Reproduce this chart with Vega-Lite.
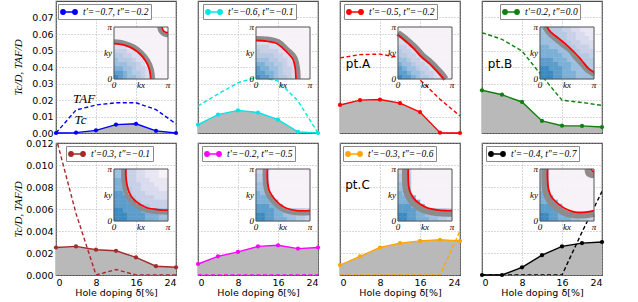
{
"$schema":"https://vega.github.io/schema/vega-lite/v6.json",
"background":"white",
"padding":{"left":11,"top":0,"right":0,"bottom":0},
"columns":4,
"spacing":{"row":10,"column":22},
"bounds":"flush",
"resolve":{"scale":{"color":"independent","stroke":"independent"},"legend":{"color":"independent"}},
"config":{
 "view":{"stroke":"#4d4d4d","strokeWidth":1.2},
 "axis":{"labelFont":"DejaVu Sans","labelFontSize":9.5,"labelColor":"#000","titleFont":"DejaVu Sans","titleFontSize":9.5,"titleFontWeight":"normal","titleColor":"#000","domain":false,"ticks":false,"grid":true,"gridColor":"#a0a0a0","gridDash":[1,2],"gridWidth":0.8,"labelPadding":3},
 "legend":{"orient":"none","title":null,"symbolType":"M-1.6,0H1.6M-0.75,0A0.45,0.45 0 1,1 -1.65,0A0.45,0.45 0 1,1 -0.75,0ZM1.65,0A0.45,0.45 0 1,1 0.75,0A0.45,0.45 0 1,1 1.65,0Z","symbolSize":100,"symbolOffset":3,"symbolStrokeWidth":1.3,"labelFont":"Liberation Serif","labelFontSize":9.5,"labelFontStyle":"italic","labelColor":"#000","labelOffset":8,"padding":2,"strokeColor":"#8a8a8a","fillColor":"#ffffff","cornerRadius":0}
},
"datasets":{
"m":[
{"p":1,"d":0,"tc":0,"taf":0},{"p":1,"d":4,"tc":0.0002,"taf":0.0139},{"p":1,"d":8,"tc":0.0016,"taf":0.017},{"p":1,"d":12,"tc":0.0051,"taf":0.0183},{"p":1,"d":16,"tc":0.0056,"taf":0.0183},{"p":1,"d":20,"tc":0.0013,"taf":0.0142},{"p":1,"d":24,"tc":0,"taf":0.0055},
{"p":2,"d":0,"tc":0.005,"taf":0.0164},{"p":2,"d":4,"tc":0.0111,"taf":0.0236},{"p":2,"d":8,"tc":0.0137,"taf":0.0305},{"p":2,"d":12,"tc":0.0124,"taf":0.034},{"p":2,"d":16,"tc":0.0081,"taf":0.0315},{"p":2,"d":20,"tc":0.0007,"taf":0.0194},{"p":2,"d":24,"tc":0,"taf":0},
{"p":3,"d":0,"tc":0.017,"taf":0.0455},{"p":3,"d":4,"tc":0.0199,"taf":0.0475},{"p":3,"d":8,"tc":0.0203,"taf":0.0478},{"p":3,"d":12,"tc":0.0181,"taf":0.0457},{"p":3,"d":16,"tc":0.0127,"taf":0.0322},{"p":3,"d":20,"tc":0.0002,"taf":0.0205},{"p":3,"d":24,"tc":0,"taf":0.0103},
{"p":4,"d":0,"tc":0.0259,"taf":0.0608},{"p":4,"d":4,"tc":0.0232,"taf":0.0568},{"p":4,"d":8,"tc":0.0188,"taf":0.0497},{"p":4,"d":12,"tc":0.0073,"taf":0.0345},{"p":4,"d":16,"tc":0.0044,"taf":0.0199},{"p":4,"d":20,"tc":0.0043,"taf":0.0185},{"p":4,"d":24,"tc":0.0036,"taf":0.0167},
{"p":5,"d":0,"tc":0.0025,"taf":0.0125},{"p":5,"d":4,"tc":0.0026,"taf":0.0056},{"p":5,"d":8,"tc":0.0023,"taf":0},{"p":5,"d":12,"tc":0.0022,"taf":0.0005},{"p":5,"d":16,"tc":0.0016,"taf":0},{"p":5,"d":20,"tc":0.0008,"taf":0},{"p":5,"d":24,"tc":0.0007,"taf":0},
{"p":6,"d":0,"tc":0.001,"taf":0},{"p":6,"d":4,"tc":0.0017,"taf":0},{"p":6,"d":8,"tc":0.0021,"taf":0},{"p":6,"d":12,"tc":0.0026,"taf":0},{"p":6,"d":16,"tc":0.0027,"taf":0},{"p":6,"d":20,"tc":0.0024,"taf":0},{"p":6,"d":24,"tc":0.0025,"taf":0},
{"p":7,"d":0,"tc":0.0009,"taf":0},{"p":7,"d":4,"tc":0.0017,"taf":0},{"p":7,"d":8,"tc":0.0025,"taf":0},{"p":7,"d":12,"tc":0.0029,"taf":0},{"p":7,"d":16,"tc":0.0031,"taf":0},{"p":7,"d":20,"tc":0.0032,"taf":0},{"p":7,"d":24,"tc":0.0031,"taf":0.004},
{"p":8,"d":0,"tc":0,"taf":0},{"p":8,"d":4,"tc":0,"taf":0},{"p":8,"d":8,"tc":0.0007,"taf":0},{"p":8,"d":12,"tc":0.0018,"taf":0},{"p":8,"d":16,"tc":0.0026,"taf":0},{"p":8,"d":20,"tc":0.0029,"taf":0.0039},{"p":8,"d":24,"tc":0.003,"taf":0.0076}
],
"h":[
{"p":1,"j":0,"v":[0,1,2,3,3,4,5,6,8,8,8,8]},{"p":1,"j":1,"v":[1,1,2,3,4,4,5,6,8,8,8,8]},{"p":1,"j":2,"v":[2,2,3,3,4,5,5,6,8,8,8,8]},{"p":1,"j":3,"v":[3,3,3,4,4,5,6,8,8,8,8,8]},{"p":1,"j":4,"v":[3,4,4,4,5,6,6,8,8,8,8,8]},{"p":1,"j":5,"v":[4,4,5,5,6,6,8,8,8,8,8,8]},{"p":1,"j":6,"v":[5,5,5,6,6,8,8,8,8,8,8,8]},{"p":1,"j":7,"v":[6,6,6,8,8,8,8,8,8,8,8,8]},{"p":1,"j":8,"v":[8,8,8,8,8,8,8,8,8,8,8,8]},{"p":1,"j":9,"v":[8,8,8,8,8,8,8,8,8,8,8,8]},{"p":1,"j":10,"v":[8,8,8,8,8,8,8,8,8,8,8,8]},{"p":1,"j":11,"v":[8,8,8,8,8,8,8,8,8,8,8,8]},
{"p":2,"j":0,"v":[0,1,1,2,3,4,4,5,6,8,8,8]},{"p":2,"j":1,"v":[1,1,2,2,3,4,5,5,6,8,8,8]},{"p":2,"j":2,"v":[1,2,2,3,3,4,5,5,6,8,8,8]},{"p":2,"j":3,"v":[2,2,3,3,4,4,5,6,6,8,8,8]},{"p":2,"j":4,"v":[3,3,3,4,4,5,5,6,8,8,8,8]},{"p":2,"j":5,"v":[4,4,4,4,5,5,6,6,8,8,8,8]},{"p":2,"j":6,"v":[4,5,5,5,5,6,6,8,8,8,8,8]},{"p":2,"j":7,"v":[5,5,5,6,6,6,8,8,8,8,8,8]},{"p":2,"j":8,"v":[6,6,6,6,8,8,8,8,8,8,8,8]},{"p":2,"j":9,"v":[8,8,8,8,8,8,8,8,8,8,8,8]},{"p":2,"j":10,"v":[8,8,8,8,8,8,8,8,8,8,8,8]},{"p":2,"j":11,"v":[8,8,8,8,8,8,8,8,8,8,8,8]},
{"p":3,"j":0,"v":[0,1,1,2,3,4,4,5,6,6,8,8]},{"p":3,"j":1,"v":[1,1,2,3,3,4,5,5,6,8,8,8]},{"p":3,"j":2,"v":[1,2,3,3,4,5,5,6,8,8,8,8]},{"p":3,"j":3,"v":[2,3,3,4,5,5,6,8,8,8,8,8]},{"p":3,"j":4,"v":[3,3,4,5,5,6,8,8,8,8,8,8]},{"p":3,"j":5,"v":[4,4,5,5,6,8,8,8,8,8,8,8]},{"p":3,"j":6,"v":[4,5,5,6,8,8,8,8,8,8,8,8]},{"p":3,"j":7,"v":[5,5,6,8,8,8,8,8,8,8,8,8]},{"p":3,"j":8,"v":[6,6,8,8,8,8,8,8,8,8,8,8]},{"p":3,"j":9,"v":[6,8,8,8,8,8,8,8,8,8,8,8]},{"p":3,"j":10,"v":[8,8,8,8,8,8,8,8,8,8,8,8]},{"p":3,"j":11,"v":[8,8,8,8,8,8,8,8,8,8,8,8]},
{"p":4,"j":0,"v":[0,0,0,1,1,2,2,2,3,3,3,3]},{"p":4,"j":1,"v":[0,0,0,1,1,2,2,2,3,3,3,3]},{"p":4,"j":2,"v":[0,0,1,1,1,2,2,3,3,3,3,4]},{"p":4,"j":3,"v":[1,1,1,1,2,2,2,3,3,3,4,4]},{"p":4,"j":4,"v":[1,1,1,2,2,2,3,3,3,4,4,4]},{"p":4,"j":5,"v":[2,2,2,2,2,3,3,3,4,4,4,5]},{"p":4,"j":6,"v":[2,2,2,2,3,3,3,4,4,5,5,5]},{"p":4,"j":7,"v":[2,2,3,3,3,3,4,4,5,5,5,6]},{"p":4,"j":8,"v":[3,3,3,3,3,4,4,5,5,6,6,6]},{"p":4,"j":9,"v":[3,3,3,3,4,4,5,5,6,6,6,7]},{"p":4,"j":10,"v":[3,3,3,4,4,4,5,5,6,6,7,7]},{"p":4,"j":11,"v":[3,3,4,4,4,5,5,6,6,7,7,7]},
{"p":5,"j":0,"v":[0,0,0,1,1,1,1,2,2,2,3,3]},{"p":5,"j":1,"v":[0,0,0,1,1,1,1,2,2,2,3,3]},{"p":5,"j":2,"v":[0,0,1,1,1,1,2,2,2,2,3,3]},{"p":5,"j":3,"v":[1,1,1,1,1,1,4,4,5,5,5,5]},{"p":5,"j":4,"v":[1,1,1,1,1,4,5,5,5,5,5,5]},{"p":5,"j":5,"v":[1,1,1,1,4,5,5,5,5,6,6,6]},{"p":5,"j":6,"v":[1,1,2,4,5,5,5,6,6,6,6,6]},{"p":5,"j":7,"v":[2,2,2,4,5,5,6,6,6,6,7,7]},{"p":5,"j":8,"v":[2,2,2,5,5,5,6,6,6,7,7,7]},{"p":5,"j":9,"v":[2,2,2,5,5,6,6,6,7,7,7,7]},{"p":5,"j":10,"v":[3,3,3,5,5,6,6,7,7,7,8,8]},{"p":5,"j":11,"v":[3,3,3,5,5,6,6,7,7,7,8,8]},
{"p":6,"j":0,"v":[0,0,1,1,2,2,2,3,3,4,4,5]},{"p":6,"j":1,"v":[0,0,1,1,2,2,3,3,3,4,4,5]},{"p":6,"j":2,"v":[1,1,1,1,2,2,3,3,4,4,4,5]},{"p":6,"j":3,"v":[1,1,1,2,2,2,8,8,8,8,8,8]},{"p":6,"j":4,"v":[2,2,2,2,2,8,8,8,8,8,8,8]},{"p":6,"j":5,"v":[2,2,2,2,8,8,8,8,8,8,8,8]},{"p":6,"j":6,"v":[2,3,3,8,8,8,8,8,8,8,8,8]},{"p":6,"j":7,"v":[3,3,3,8,8,8,8,8,8,8,8,8]},{"p":6,"j":8,"v":[3,3,4,8,8,8,8,8,8,8,8,8]},{"p":6,"j":9,"v":[4,4,4,8,8,8,8,8,8,8,8,8]},{"p":6,"j":10,"v":[4,4,4,8,8,8,8,8,8,8,8,8]},{"p":6,"j":11,"v":[5,5,5,8,8,8,8,8,8,8,8,8]},
{"p":7,"j":0,"v":[0,0,1,1,2,2,2,3,3,4,4,5]},{"p":7,"j":1,"v":[0,0,1,1,2,2,3,3,3,4,4,5]},{"p":7,"j":2,"v":[1,1,1,1,2,2,3,3,4,4,4,5]},{"p":7,"j":3,"v":[1,1,1,2,2,2,8,8,8,8,8,8]},{"p":7,"j":4,"v":[2,2,2,2,2,8,8,8,8,8,8,8]},{"p":7,"j":5,"v":[2,2,2,2,8,8,8,8,8,8,8,8]},{"p":7,"j":6,"v":[2,3,3,8,8,8,8,8,8,8,8,8]},{"p":7,"j":7,"v":[3,3,3,8,8,8,8,8,8,8,8,8]},{"p":7,"j":8,"v":[3,3,4,8,8,8,8,8,8,8,8,8]},{"p":7,"j":9,"v":[4,4,4,8,8,8,8,8,8,8,8,8]},{"p":7,"j":10,"v":[4,4,4,8,8,8,8,8,8,8,8,8]},{"p":7,"j":11,"v":[5,5,5,8,8,8,8,8,8,8,8,8]},
{"p":8,"j":0,"v":[0,0,1,1,2,2,2,3,3,4,4,5]},{"p":8,"j":1,"v":[0,0,1,1,2,2,3,3,3,4,4,5]},{"p":8,"j":2,"v":[1,1,1,1,2,2,8,8,8,8,8,8]},{"p":8,"j":3,"v":[1,1,1,2,2,8,8,8,8,8,8,8]},{"p":8,"j":4,"v":[2,2,2,2,8,8,8,8,8,8,8,8]},{"p":8,"j":5,"v":[2,2,2,8,8,8,8,8,8,8,8,8]},{"p":8,"j":6,"v":[2,3,8,8,8,8,8,8,8,8,8,8]},{"p":8,"j":7,"v":[3,3,8,8,8,8,8,8,8,8,8,8]},{"p":8,"j":8,"v":[3,3,8,8,8,8,8,8,8,8,8,8]},{"p":8,"j":9,"v":[4,4,8,8,8,8,8,8,8,8,8,8]},{"p":8,"j":10,"v":[4,4,8,8,8,8,8,8,8,8,8,8]},{"p":8,"j":11,"v":[5,5,8,8,8,8,8,8,8,8,8,8]}
],
"f":[
{"p":1,"c":"r","s":1,"o":0,"x":0.68,"y":0},{"p":1,"c":"r","s":1,"o":1,"x":0.657,"y":0.176},{"p":1,"c":"r","s":1,"o":2,"x":0.589,"y":0.34},{"p":1,"c":"r","s":1,"o":3,"x":0.481,"y":0.481},{"p":1,"c":"r","s":1,"o":4,"x":0.34,"y":0.589},{"p":1,"c":"r","s":1,"o":5,"x":0.176,"y":0.657},{"p":1,"c":"r","s":1,"o":6,"x":0,"y":0.68},
{"p":1,"c":"g","s":2,"o":0,"x":0.725,"y":0},{"p":1,"c":"g","s":2,"o":1,"x":0.7,"y":0.188},{"p":1,"c":"g","s":2,"o":2,"x":0.628,"y":0.363},{"p":1,"c":"g","s":2,"o":3,"x":0.513,"y":0.513},{"p":1,"c":"g","s":2,"o":4,"x":0.363,"y":0.628},{"p":1,"c":"g","s":2,"o":5,"x":0.188,"y":0.7},{"p":1,"c":"g","s":2,"o":6,"x":0,"y":0.725},
{"p":1,"c":"r","s":3,"o":0,"x":0.89,"y":1},{"p":1,"c":"r","s":3,"o":1,"x":0.894,"y":0.972},{"p":1,"c":"r","s":3,"o":2,"x":0.905,"y":0.945},{"p":1,"c":"r","s":3,"o":3,"x":0.922,"y":0.922},{"p":1,"c":"r","s":3,"o":4,"x":0.945,"y":0.905},{"p":1,"c":"r","s":3,"o":5,"x":0.972,"y":0.894},{"p":1,"c":"r","s":3,"o":6,"x":1,"y":0.89},
{"p":1,"c":"g","s":4,"o":0,"x":0.84,"y":1},{"p":1,"c":"g","s":4,"o":1,"x":0.845,"y":0.959},{"p":1,"c":"g","s":4,"o":2,"x":0.861,"y":0.92},{"p":1,"c":"g","s":4,"o":3,"x":0.887,"y":0.887},{"p":1,"c":"g","s":4,"o":4,"x":0.92,"y":0.861},{"p":1,"c":"g","s":4,"o":5,"x":0.959,"y":0.845},{"p":1,"c":"g","s":4,"o":6,"x":1,"y":0.84},
{"p":2,"c":"r","s":1,"o":0,"x":0.74,"y":0},{"p":2,"c":"r","s":1,"o":1,"x":0.728,"y":0.2},{"p":2,"c":"r","s":1,"o":2,"x":0.68,"y":0.39},{"p":2,"c":"r","s":1,"o":3,"x":0.545,"y":0.545},{"p":2,"c":"r","s":1,"o":4,"x":0.39,"y":0.68},{"p":2,"c":"r","s":1,"o":5,"x":0.2,"y":0.728},{"p":2,"c":"r","s":1,"o":6,"x":0,"y":0.74},
{"p":2,"c":"g","s":2,"o":0,"x":0.79,"y":0},{"p":2,"c":"g","s":2,"o":1,"x":0.778,"y":0.21},{"p":2,"c":"g","s":2,"o":2,"x":0.725,"y":0.42},{"p":2,"c":"g","s":2,"o":3,"x":0.58,"y":0.58},{"p":2,"c":"g","s":2,"o":4,"x":0.42,"y":0.725},{"p":2,"c":"g","s":2,"o":5,"x":0.21,"y":0.778},{"p":2,"c":"g","s":2,"o":6,"x":0,"y":0.79},
{"p":3,"c":"r","s":1,"o":0,"x":0,"y":0.85},{"p":3,"c":"r","s":1,"o":1,"x":0.1,"y":0.765},{"p":3,"c":"r","s":1,"o":2,"x":0.2,"y":0.675},{"p":3,"c":"r","s":1,"o":3,"x":0.3,"y":0.58},{"p":3,"c":"r","s":1,"o":4,"x":0.43,"y":0.43},{"p":3,"c":"r","s":1,"o":5,"x":0.58,"y":0.3},{"p":3,"c":"r","s":1,"o":6,"x":0.675,"y":0.2},{"p":3,"c":"r","s":1,"o":7,"x":0.765,"y":0.1},{"p":3,"c":"r","s":1,"o":8,"x":0.85,"y":0},
{"p":3,"c":"g","s":2,"o":0,"x":0,"y":0.885},{"p":3,"c":"g","s":2,"o":1,"x":0.125,"y":0.79},{"p":3,"c":"g","s":2,"o":2,"x":0.225,"y":0.7},{"p":3,"c":"g","s":2,"o":3,"x":0.325,"y":0.605},{"p":3,"c":"g","s":2,"o":4,"x":0.455,"y":0.455},{"p":3,"c":"g","s":2,"o":5,"x":0.605,"y":0.325},{"p":3,"c":"g","s":2,"o":6,"x":0.7,"y":0.225},{"p":3,"c":"g","s":2,"o":7,"x":0.79,"y":0.125},{"p":3,"c":"g","s":2,"o":8,"x":0.885,"y":0},
{"p":4,"c":"r","s":1,"o":0,"x":0.13,"y":1},{"p":4,"c":"r","s":1,"o":1,"x":0.2,"y":0.9},{"p":4,"c":"r","s":1,"o":2,"x":0.3,"y":0.817},{"p":4,"c":"r","s":1,"o":3,"x":0.4,"y":0.736},{"p":4,"c":"r","s":1,"o":4,"x":0.5,"y":0.648},{"p":4,"c":"r","s":1,"o":5,"x":0.575,"y":0.575},{"p":4,"c":"r","s":1,"o":6,"x":0.648,"y":0.5},{"p":4,"c":"r","s":1,"o":7,"x":0.736,"y":0.4},{"p":4,"c":"r","s":1,"o":8,"x":0.817,"y":0.3},{"p":4,"c":"r","s":1,"o":9,"x":0.9,"y":0.2},{"p":4,"c":"r","s":1,"o":10,"x":1,"y":0.13},
{"p":4,"c":"g","s":2,"o":0,"x":0.08,"y":1},{"p":4,"c":"g","s":2,"o":1,"x":0.15,"y":0.885},{"p":4,"c":"g","s":2,"o":2,"x":0.25,"y":0.79},{"p":4,"c":"g","s":2,"o":3,"x":0.35,"y":0.705},{"p":4,"c":"g","s":2,"o":4,"x":0.45,"y":0.62},{"p":4,"c":"g","s":2,"o":5,"x":0.545,"y":0.545},{"p":4,"c":"g","s":2,"o":6,"x":0.62,"y":0.45},{"p":4,"c":"g","s":2,"o":7,"x":0.705,"y":0.35},{"p":4,"c":"g","s":2,"o":8,"x":0.79,"y":0.25},{"p":4,"c":"g","s":2,"o":9,"x":0.885,"y":0.15},{"p":4,"c":"g","s":2,"o":10,"x":1,"y":0.08},
{"p":5,"c":"r","s":1,"o":0,"x":0.22,"y":1},{"p":5,"c":"r","s":1,"o":1,"x":0.22,"y":0.85},{"p":5,"c":"r","s":1,"o":2,"x":0.24,"y":0.7},{"p":5,"c":"r","s":1,"o":3,"x":0.28,"y":0.55},{"p":5,"c":"r","s":1,"o":4,"x":0.36,"y":0.42},{"p":5,"c":"r","s":1,"o":5,"x":0.48,"y":0.32},{"p":5,"c":"r","s":1,"o":6,"x":0.62,"y":0.25},{"p":5,"c":"r","s":1,"o":7,"x":0.8,"y":0.22},{"p":5,"c":"r","s":1,"o":8,"x":1,"y":0.21},
{"p":5,"c":"g","s":2,"o":0,"x":0.17,"y":1},{"p":5,"c":"g","s":2,"o":1,"x":0.17,"y":0.84},{"p":5,"c":"g","s":2,"o":2,"x":0.19,"y":0.67},{"p":5,"c":"g","s":2,"o":3,"x":0.23,"y":0.51},{"p":5,"c":"g","s":2,"o":4,"x":0.32,"y":0.37},{"p":5,"c":"g","s":2,"o":5,"x":0.45,"y":0.27},{"p":5,"c":"g","s":2,"o":6,"x":0.6,"y":0.2},{"p":5,"c":"g","s":2,"o":7,"x":0.8,"y":0.17},{"p":5,"c":"g","s":2,"o":8,"x":1,"y":0.16},
{"p":6,"c":"r","s":1,"o":0,"x":0.21,"y":1},{"p":6,"c":"r","s":1,"o":1,"x":0.21,"y":0.8},{"p":6,"c":"r","s":1,"o":2,"x":0.24,"y":0.6},{"p":6,"c":"r","s":1,"o":3,"x":0.3,"y":0.48},{"p":6,"c":"r","s":1,"o":4,"x":0.42,"y":0.34},{"p":6,"c":"r","s":1,"o":5,"x":0.55,"y":0.25},{"p":6,"c":"r","s":1,"o":6,"x":0.75,"y":0.2},{"p":6,"c":"r","s":1,"o":7,"x":1,"y":0.2},
{"p":6,"c":"g","s":2,"o":0,"x":0.16,"y":1},{"p":6,"c":"g","s":2,"o":1,"x":0.16,"y":0.8},{"p":6,"c":"g","s":2,"o":2,"x":0.19,"y":0.58},{"p":6,"c":"g","s":2,"o":3,"x":0.25,"y":0.45},{"p":6,"c":"g","s":2,"o":4,"x":0.38,"y":0.3},{"p":6,"c":"g","s":2,"o":5,"x":0.52,"y":0.2},{"p":6,"c":"g","s":2,"o":6,"x":0.75,"y":0.15},{"p":6,"c":"g","s":2,"o":7,"x":1,"y":0.15},
{"p":7,"c":"r","s":1,"o":0,"x":0.19,"y":1},{"p":7,"c":"r","s":1,"o":1,"x":0.19,"y":0.8},{"p":7,"c":"r","s":1,"o":2,"x":0.21,"y":0.6},{"p":7,"c":"r","s":1,"o":3,"x":0.28,"y":0.45},{"p":7,"c":"r","s":1,"o":4,"x":0.4,"y":0.33},{"p":7,"c":"r","s":1,"o":5,"x":0.55,"y":0.25},{"p":7,"c":"r","s":1,"o":6,"x":0.75,"y":0.21},{"p":7,"c":"r","s":1,"o":7,"x":1,"y":0.2},
{"p":7,"c":"g","s":2,"o":0,"x":0.13,"y":1},{"p":7,"c":"g","s":2,"o":1,"x":0.13,"y":0.8},{"p":7,"c":"g","s":2,"o":2,"x":0.15,"y":0.57},{"p":7,"c":"g","s":2,"o":3,"x":0.23,"y":0.4},{"p":7,"c":"g","s":2,"o":4,"x":0.36,"y":0.27},{"p":7,"c":"g","s":2,"o":5,"x":0.52,"y":0.19},{"p":7,"c":"g","s":2,"o":6,"x":0.75,"y":0.15},{"p":7,"c":"g","s":2,"o":7,"x":1,"y":0.14},
{"p":8,"c":"r","s":1,"o":0,"x":0.14,"y":1},{"p":8,"c":"r","s":1,"o":1,"x":0.14,"y":0.8},{"p":8,"c":"r","s":1,"o":2,"x":0.16,"y":0.6},{"p":8,"c":"r","s":1,"o":3,"x":0.22,"y":0.45},{"p":8,"c":"r","s":1,"o":4,"x":0.35,"y":0.32},{"p":8,"c":"r","s":1,"o":5,"x":0.5,"y":0.22},{"p":8,"c":"r","s":1,"o":6,"x":0.65,"y":0.17},{"p":8,"c":"r","s":1,"o":7,"x":0.85,"y":0.17},{"p":8,"c":"r","s":1,"o":8,"x":1,"y":0.2},
{"p":8,"c":"g","s":2,"o":0,"x":0.08,"y":1},{"p":8,"c":"g","s":2,"o":1,"x":0.08,"y":0.8},{"p":8,"c":"g","s":2,"o":2,"x":0.1,"y":0.57},{"p":8,"c":"g","s":2,"o":3,"x":0.17,"y":0.39},{"p":8,"c":"g","s":2,"o":4,"x":0.3,"y":0.26},{"p":8,"c":"g","s":2,"o":5,"x":0.46,"y":0.15},{"p":8,"c":"g","s":2,"o":6,"x":0.65,"y":0.11},{"p":8,"c":"g","s":2,"o":7,"x":0.85,"y":0.11},{"p":8,"c":"g","s":2,"o":8,"x":1,"y":0.14},
{"p":8,"c":"r","s":3,"o":0,"x":0.95,"y":1},{"p":8,"c":"r","s":3,"o":1,"x":0.962,"y":0.962},{"p":8,"c":"r","s":3,"o":2,"x":1,"y":0.95},
{"p":8,"c":"g","s":4,"o":0,"x":0.88,"y":1},{"p":8,"c":"g","s":4,"o":1,"x":0.905,"y":0.905},{"p":8,"c":"g","s":4,"o":2,"x":1,"y":0.88}
],
"fr":[{"x":0,"y":0,"x2":1,"y2":1}],
"il":[{"x":0,"y":0,"t":"0"},{"x":0,"y":0.5,"t":"ky"},{"x":0,"y":1,"t":"π"}],
"ib":[{"x":0,"y":0,"t":"0"},{"x":0.5,"y":0,"t":"kx"},{"x":1,"y":0,"t":"π"}]
},
"concat":[
{"width":120,"height":132,"resolve":{"scale":{"x":"independent","y":"independent","color":"independent","stroke":"independent"},"axis":{"x":"independent","y":"independent"},"legend":{"color":"independent"}},
 "layer":[
  {"data":{"name":"m"},
   "encoding":{"x":{"field":"d","type":"quantitative","scale":{"domain":[0,24],"nice":false,"zero":false},"axis":{"values":[0,8,16,24],"labels":false,"title":null,"minExtent":0,"maxExtent":0,"labelPadding":0}},
     "y":{"field":"tc","type":"quantitative","scale":{"domain":[0,0.08],"nice":false},"axis":{"values":[0,0.01,0.02,0.03,0.04,0.05,0.06,0.07],"format":".2f","title":"Tc/D,  TAF/D","titleFont":"Liberation Serif","titleFontStyle":"italic","titleFontSize":11,"minExtent":30,"maxExtent":30,"titlePadding":3}}},
   "layer":[
    {"transform":[{"filter":"datum.p==1"}],"mark":{"type":"area","color":"#b9b9b9","opacity":1}},
    {"transform":[{"filter":"datum.p==1"}],"mark":{"type":"line","color":"#0000ff","strokeWidth":1.4,"strokeDash":[4,2.5],"clip":true},"encoding":{"y":{"field":"taf","type":"quantitative"}}},
    {"transform":[{"filter":"datum.p==1"}],"mark":{"type":"line","strokeWidth":1.4},"encoding":{"color":{"datum":"t′=−0.7, t″=−0.2","type":"nominal","scale":{"range":["#0000ff"]},"legend":{"legendX":2,"legendY":3,"symbolFillColor":"#0000ff","symbolStrokeColor":"#0000ff"}}}},
    {"transform":[{"filter":"datum.p==1"}],"mark":{"type":"point","filled":true,"size":18,"opacity":1},"encoding":{"color":{"datum":"t′=−0.7, t″=−0.2","type":"nominal"}}},
    {"data":{"values":[{"d":5.6,"tc":0.0206,"t":"TAF"},{"d":4.9,"tc":0.0079,"t":"Tc"}]},"mark":{"type":"text","font":"Liberation Serif","fontStyle":"italic","fontSize":13},"encoding":{"text":{"field":"t"}}}
   ]},
  {"data":{"name":"h"},"transform":[{"filter":"datum.p==1"},{"flatten":["v"]},{"window":[{"op":"row_number","as":"n"}],"groupby":["j"]}],
   "mark":{"type":"rect","strokeWidth":0.5},
   "encoding":{"x":{"field":"n","type":"ordinal","scale":{"range":[58,112],"paddingInner":0,"paddingOuter":0},"axis":null},
     "y":{"field":"j","type":"ordinal","sort":"descending","scale":{"range":[26,78],"paddingInner":0,"paddingOuter":0},"axis":null},
     "color":{"field":"v","type":"quantitative","scale":{"domain":[0,1,2,3,4,5,6,7,8],"range":["#3b8bc2","#5c9dcb","#7db0d6","#9dbfdf","#b5c9e3","#c8d0e7","#d9dbee","#e9e6f3","#f7f1f8"]},"legend":null},
     "stroke":{"field":"v","type":"quantitative","scale":{"domain":[0,1,2,3,4,5,6,7,8],"range":["#3b8bc2","#5c9dcb","#7db0d6","#9dbfdf","#b5c9e3","#c8d0e7","#d9dbee","#e9e6f3","#f7f1f8"]},"legend":null}}},
  {"encoding":{"x":{"field":"x","type":"quantitative","scale":{"domain":[0,1],"range":[58,112],"nice":false,"zero":false},"axis":null},
     "y":{"field":"y","type":"quantitative","scale":{"domain":[0,1],"range":[78,26],"nice":false,"zero":false},"axis":null}},
   "layer":[
    {"data":{"name":"f"},"transform":[{"filter":"datum.p==1 && datum.c=='g'"}],"mark":{"type":"line","color":"#8c8c8c","strokeWidth":4,"interpolate":"catmull-rom"},"encoding":{"detail":{"field":"s"},"order":{"field":"o"}}},
    {"data":{"name":"f"},"transform":[{"filter":"datum.p==1 && datum.c=='r'"}],"mark":{"type":"line","color":"#ff0000","strokeWidth":1.8,"interpolate":"catmull-rom"},"encoding":{"detail":{"field":"s"},"order":{"field":"o"}}},
    {"data":{"name":"fr"},"mark":{"type":"rect","filled":false,"color":"#555555","strokeWidth":1},"encoding":{"x2":{"field":"x2"},"y2":{"field":"y2"}}},
    {"data":{"name":"il"},"mark":{"type":"text","align":"right","baseline":"middle","dx":-2,"font":"Liberation Serif","fontSize":9,"fontStyle":"italic"},"encoding":{"text":{"field":"t"}}},
    {"data":{"name":"ib"},"mark":{"type":"text","align":"center","baseline":"top","dy":2,"font":"Liberation Serif","fontSize":9,"fontStyle":"italic"},"encoding":{"text":{"field":"t"}}}
   ]}
 ]},
{"width":120,"height":132,"resolve":{"scale":{"x":"independent","y":"independent","color":"independent","stroke":"independent"},"axis":{"x":"independent","y":"independent"},"legend":{"color":"independent"}},
 "layer":[
  {"data":{"name":"m"},
   "encoding":{"x":{"field":"d","type":"quantitative","scale":{"domain":[0,24],"nice":false,"zero":false},"axis":{"values":[0,8,16,24],"labels":false,"title":null,"minExtent":0,"maxExtent":0,"labelPadding":0}},
     "y":{"field":"tc","type":"quantitative","scale":{"domain":[0,0.08],"nice":false},"axis":{"values":[0,0.01,0.02,0.03,0.04,0.05,0.06,0.07],"labels":false,"title":null,"minExtent":0,"maxExtent":0,"labelPadding":0}}},
   "layer":[
    {"transform":[{"filter":"datum.p==2"}],"mark":{"type":"area","color":"#b9b9b9","opacity":1}},
    {"transform":[{"filter":"datum.p==2"}],"mark":{"type":"line","color":"#00e5e5","strokeWidth":1.4,"strokeDash":[4,2.5],"clip":true},"encoding":{"y":{"field":"taf","type":"quantitative"}}},
    {"transform":[{"filter":"datum.p==2"}],"mark":{"type":"line","strokeWidth":1.4},"encoding":{"color":{"datum":"t′=−0.6, t″=−0.1","type":"nominal","scale":{"range":["#00e5e5"]},"legend":{"legendX":5,"legendY":3,"symbolFillColor":"#00e5e5","symbolStrokeColor":"#00e5e5"}}}},
    {"transform":[{"filter":"datum.p==2"}],"mark":{"type":"point","filled":true,"size":18,"opacity":1},"encoding":{"color":{"datum":"t′=−0.6, t″=−0.1","type":"nominal"}}}
   ]},
  {"data":{"name":"h"},"transform":[{"filter":"datum.p==2"},{"flatten":["v"]},{"window":[{"op":"row_number","as":"n"}],"groupby":["j"]}],
   "mark":{"type":"rect","strokeWidth":0.5},
   "encoding":{"x":{"field":"n","type":"ordinal","scale":{"range":[58,112],"paddingInner":0,"paddingOuter":0},"axis":null},
     "y":{"field":"j","type":"ordinal","sort":"descending","scale":{"range":[26,78],"paddingInner":0,"paddingOuter":0},"axis":null},
     "color":{"field":"v","type":"quantitative","scale":{"domain":[0,1,2,3,4,5,6,7,8],"range":["#3b8bc2","#5c9dcb","#7db0d6","#9dbfdf","#b5c9e3","#c8d0e7","#d9dbee","#e9e6f3","#f7f1f8"]},"legend":null},
     "stroke":{"field":"v","type":"quantitative","scale":{"domain":[0,1,2,3,4,5,6,7,8],"range":["#3b8bc2","#5c9dcb","#7db0d6","#9dbfdf","#b5c9e3","#c8d0e7","#d9dbee","#e9e6f3","#f7f1f8"]},"legend":null}}},
  {"encoding":{"x":{"field":"x","type":"quantitative","scale":{"domain":[0,1],"range":[58,112],"nice":false,"zero":false},"axis":null},
     "y":{"field":"y","type":"quantitative","scale":{"domain":[0,1],"range":[78,26],"nice":false,"zero":false},"axis":null}},
   "layer":[
    {"data":{"name":"f"},"transform":[{"filter":"datum.p==2 && datum.c=='g'"}],"mark":{"type":"line","color":"#8c8c8c","strokeWidth":4,"interpolate":"catmull-rom"},"encoding":{"detail":{"field":"s"},"order":{"field":"o"}}},
    {"data":{"name":"f"},"transform":[{"filter":"datum.p==2 && datum.c=='r'"}],"mark":{"type":"line","color":"#ff0000","strokeWidth":1.8,"interpolate":"catmull-rom"},"encoding":{"detail":{"field":"s"},"order":{"field":"o"}}},
    {"data":{"name":"fr"},"mark":{"type":"rect","filled":false,"color":"#555555","strokeWidth":1},"encoding":{"x2":{"field":"x2"},"y2":{"field":"y2"}}},
    {"data":{"name":"il"},"mark":{"type":"text","align":"right","baseline":"middle","dx":-2,"font":"Liberation Serif","fontSize":9,"fontStyle":"italic"},"encoding":{"text":{"field":"t"}}},
    {"data":{"name":"ib"},"mark":{"type":"text","align":"center","baseline":"top","dy":2,"font":"Liberation Serif","fontSize":9,"fontStyle":"italic"},"encoding":{"text":{"field":"t"}}}
   ]}
 ]},
{"width":120,"height":132,"resolve":{"scale":{"x":"independent","y":"independent","color":"independent","stroke":"independent"},"axis":{"x":"independent","y":"independent"},"legend":{"color":"independent"}},
 "layer":[
  {"data":{"name":"m"},
   "encoding":{"x":{"field":"d","type":"quantitative","scale":{"domain":[0,24],"nice":false,"zero":false},"axis":{"values":[0,8,16,24],"labels":false,"title":null,"minExtent":0,"maxExtent":0,"labelPadding":0}},
     "y":{"field":"tc","type":"quantitative","scale":{"domain":[0,0.08],"nice":false},"axis":{"values":[0,0.01,0.02,0.03,0.04,0.05,0.06,0.07],"labels":false,"title":null,"minExtent":0,"maxExtent":0,"labelPadding":0}}},
   "layer":[
    {"transform":[{"filter":"datum.p==3"}],"mark":{"type":"area","color":"#b9b9b9","opacity":1}},
    {"transform":[{"filter":"datum.p==3"}],"mark":{"type":"line","color":"#ff0000","strokeWidth":1.4,"strokeDash":[4,2.5],"clip":true},"encoding":{"y":{"field":"taf","type":"quantitative"}}},
    {"transform":[{"filter":"datum.p==3"}],"mark":{"type":"line","strokeWidth":1.4},"encoding":{"color":{"datum":"t′=−0.5, t″=−0.2","type":"nominal","scale":{"range":["#ff0000"]},"legend":{"legendX":4,"legendY":3,"symbolFillColor":"#ff0000","symbolStrokeColor":"#ff0000"}}}},
    {"transform":[{"filter":"datum.p==3"}],"mark":{"type":"point","filled":true,"size":18,"opacity":1},"encoding":{"color":{"datum":"t′=−0.5, t″=−0.2","type":"nominal"}}},
    {"data":{"values":[{"d":3.6,"tc":0.0418,"t":"pt.A"}]},"mark":{"type":"text","font":"DejaVu Sans","fontSize":12},"encoding":{"text":{"field":"t"}}}
   ]},
  {"data":{"name":"h"},"transform":[{"filter":"datum.p==3"},{"flatten":["v"]},{"window":[{"op":"row_number","as":"n"}],"groupby":["j"]}],
   "mark":{"type":"rect","strokeWidth":0.5},
   "encoding":{"x":{"field":"n","type":"ordinal","scale":{"range":[58,112],"paddingInner":0,"paddingOuter":0},"axis":null},
     "y":{"field":"j","type":"ordinal","sort":"descending","scale":{"range":[26,78],"paddingInner":0,"paddingOuter":0},"axis":null},
     "color":{"field":"v","type":"quantitative","scale":{"domain":[0,1,2,3,4,5,6,7,8],"range":["#3b8bc2","#5c9dcb","#7db0d6","#9dbfdf","#b5c9e3","#c8d0e7","#d9dbee","#e9e6f3","#f7f1f8"]},"legend":null},
     "stroke":{"field":"v","type":"quantitative","scale":{"domain":[0,1,2,3,4,5,6,7,8],"range":["#3b8bc2","#5c9dcb","#7db0d6","#9dbfdf","#b5c9e3","#c8d0e7","#d9dbee","#e9e6f3","#f7f1f8"]},"legend":null}}},
  {"encoding":{"x":{"field":"x","type":"quantitative","scale":{"domain":[0,1],"range":[58,112],"nice":false,"zero":false},"axis":null},
     "y":{"field":"y","type":"quantitative","scale":{"domain":[0,1],"range":[78,26],"nice":false,"zero":false},"axis":null}},
   "layer":[
    {"data":{"name":"f"},"transform":[{"filter":"datum.p==3 && datum.c=='g'"}],"mark":{"type":"line","color":"#8c8c8c","strokeWidth":6,"interpolate":"catmull-rom"},"encoding":{"detail":{"field":"s"},"order":{"field":"o"}}},
    {"data":{"name":"f"},"transform":[{"filter":"datum.p==3 && datum.c=='r'"}],"mark":{"type":"line","color":"#ff0000","strokeWidth":1.8,"interpolate":"catmull-rom"},"encoding":{"detail":{"field":"s"},"order":{"field":"o"}}},
    {"data":{"name":"fr"},"mark":{"type":"rect","filled":false,"color":"#555555","strokeWidth":1},"encoding":{"x2":{"field":"x2"},"y2":{"field":"y2"}}},
    {"data":{"name":"il"},"mark":{"type":"text","align":"right","baseline":"middle","dx":-2,"font":"Liberation Serif","fontSize":9,"fontStyle":"italic"},"encoding":{"text":{"field":"t"}}},
    {"data":{"name":"ib"},"mark":{"type":"text","align":"center","baseline":"top","dy":2,"font":"Liberation Serif","fontSize":9,"fontStyle":"italic"},"encoding":{"text":{"field":"t"}}}
   ]}
 ]},
{"width":120,"height":132,"resolve":{"scale":{"x":"independent","y":"independent","color":"independent","stroke":"independent"},"axis":{"x":"independent","y":"independent"},"legend":{"color":"independent"}},
 "layer":[
  {"data":{"name":"m"},
   "encoding":{"x":{"field":"d","type":"quantitative","scale":{"domain":[0,24],"nice":false,"zero":false},"axis":{"values":[0,8,16,24],"labels":false,"title":null,"minExtent":0,"maxExtent":0,"labelPadding":0}},
     "y":{"field":"tc","type":"quantitative","scale":{"domain":[0,0.08],"nice":false},"axis":{"values":[0,0.01,0.02,0.03,0.04,0.05,0.06,0.07],"labels":false,"title":null,"minExtent":0,"maxExtent":0,"labelPadding":0}}},
   "layer":[
    {"transform":[{"filter":"datum.p==4"}],"mark":{"type":"area","color":"#b9b9b9","opacity":1}},
    {"transform":[{"filter":"datum.p==4"}],"mark":{"type":"line","color":"#108010","strokeWidth":1.4,"strokeDash":[4,2.5],"clip":true},"encoding":{"y":{"field":"taf","type":"quantitative"}}},
    {"transform":[{"filter":"datum.p==4"}],"mark":{"type":"line","strokeWidth":1.4},"encoding":{"color":{"datum":"t′=0.2, t″=0.0","type":"nominal","scale":{"range":["#108010"]},"legend":{"legendX":18,"legendY":3,"symbolFillColor":"#108010","symbolStrokeColor":"#108010"}}}},
    {"transform":[{"filter":"datum.p==4"}],"mark":{"type":"point","filled":true,"size":18,"opacity":1},"encoding":{"color":{"datum":"t′=0.2, t″=0.0","type":"nominal"}}},
    {"data":{"values":[{"d":3.6,"tc":0.0418,"t":"pt.B"}]},"mark":{"type":"text","font":"DejaVu Sans","fontSize":12},"encoding":{"text":{"field":"t"}}}
   ]},
  {"data":{"name":"h"},"transform":[{"filter":"datum.p==4"},{"flatten":["v"]},{"window":[{"op":"row_number","as":"n"}],"groupby":["j"]}],
   "mark":{"type":"rect","strokeWidth":0.5},
   "encoding":{"x":{"field":"n","type":"ordinal","scale":{"range":[58,112],"paddingInner":0,"paddingOuter":0},"axis":null},
     "y":{"field":"j","type":"ordinal","sort":"descending","scale":{"range":[26,78],"paddingInner":0,"paddingOuter":0},"axis":null},
     "color":{"field":"v","type":"quantitative","scale":{"domain":[0,1,2,3,4,5,6,7,8],"range":["#3b8bc2","#5c9dcb","#7db0d6","#9dbfdf","#b5c9e3","#c8d0e7","#d9dbee","#e9e6f3","#f7f1f8"]},"legend":null},
     "stroke":{"field":"v","type":"quantitative","scale":{"domain":[0,1,2,3,4,5,6,7,8],"range":["#3b8bc2","#5c9dcb","#7db0d6","#9dbfdf","#b5c9e3","#c8d0e7","#d9dbee","#e9e6f3","#f7f1f8"]},"legend":null}}},
  {"encoding":{"x":{"field":"x","type":"quantitative","scale":{"domain":[0,1],"range":[58,112],"nice":false,"zero":false},"axis":null},
     "y":{"field":"y","type":"quantitative","scale":{"domain":[0,1],"range":[78,26],"nice":false,"zero":false},"axis":null}},
   "layer":[
    {"data":{"name":"f"},"transform":[{"filter":"datum.p==4 && datum.c=='g'"}],"mark":{"type":"line","color":"#8c8c8c","strokeWidth":4,"interpolate":"catmull-rom"},"encoding":{"detail":{"field":"s"},"order":{"field":"o"}}},
    {"data":{"name":"f"},"transform":[{"filter":"datum.p==4 && datum.c=='r'"}],"mark":{"type":"line","color":"#ff0000","strokeWidth":1.8,"interpolate":"catmull-rom"},"encoding":{"detail":{"field":"s"},"order":{"field":"o"}}},
    {"data":{"name":"fr"},"mark":{"type":"rect","filled":false,"color":"#555555","strokeWidth":1},"encoding":{"x2":{"field":"x2"},"y2":{"field":"y2"}}},
    {"data":{"name":"il"},"mark":{"type":"text","align":"right","baseline":"middle","dx":-2,"font":"Liberation Serif","fontSize":9,"fontStyle":"italic"},"encoding":{"text":{"field":"t"}}},
    {"data":{"name":"ib"},"mark":{"type":"text","align":"center","baseline":"top","dy":2,"font":"Liberation Serif","fontSize":9,"fontStyle":"italic"},"encoding":{"text":{"field":"t"}}}
   ]}
 ]},
{"width":120,"height":132,"resolve":{"scale":{"x":"independent","y":"independent","color":"independent","stroke":"independent"},"axis":{"x":"independent","y":"independent"},"legend":{"color":"independent"}},
 "layer":[
  {"data":{"name":"m"},
   "encoding":{"x":{"field":"d","type":"quantitative","scale":{"domain":[0,24],"nice":false,"zero":false},"axis":{"values":[0,8,16,24],"title":"Hole doping δ[%]","labelPadding":2,"titlePadding":1}},
     "y":{"field":"tc","type":"quantitative","scale":{"domain":[0,0.012],"nice":false},"axis":{"values":[0,0.002,0.004,0.006,0.008,0.01,0.012],"format":".3f","title":"Tc/D,  TAF/D","titleFont":"Liberation Serif","titleFontStyle":"italic","titleFontSize":11,"minExtent":30,"maxExtent":30,"titlePadding":3}}},
   "layer":[
    {"transform":[{"filter":"datum.p==5"}],"mark":{"type":"area","color":"#b9b9b9","opacity":1}},
    {"transform":[{"filter":"datum.p==5"}],"mark":{"type":"line","color":"#a52a2a","strokeWidth":1.4,"strokeDash":[4,2.5],"clip":true},"encoding":{"y":{"field":"taf","type":"quantitative"}}},
    {"transform":[{"filter":"datum.p==5"}],"mark":{"type":"line","strokeWidth":1.4},"encoding":{"color":{"datum":"t′=0.3, t″=−0.1","type":"nominal","scale":{"range":["#a52a2a"]},"legend":{"legendX":10,"legendY":3,"symbolFillColor":"#a52a2a","symbolStrokeColor":"#a52a2a"}}}},
    {"transform":[{"filter":"datum.p==5"}],"mark":{"type":"point","filled":true,"size":18,"opacity":1},"encoding":{"color":{"datum":"t′=0.3, t″=−0.1","type":"nominal"}}}
   ]},
  {"data":{"name":"h"},"transform":[{"filter":"datum.p==5"},{"flatten":["v"]},{"window":[{"op":"row_number","as":"n"}],"groupby":["j"]}],
   "mark":{"type":"rect","strokeWidth":0.5},
   "encoding":{"x":{"field":"n","type":"ordinal","scale":{"range":[58,112],"paddingInner":0,"paddingOuter":0},"axis":null},
     "y":{"field":"j","type":"ordinal","sort":"descending","scale":{"range":[26,78],"paddingInner":0,"paddingOuter":0},"axis":null},
     "color":{"field":"v","type":"quantitative","scale":{"domain":[0,1,2,3,4,5,6,7,8],"range":["#3b8bc2","#5c9dcb","#7db0d6","#9dbfdf","#b5c9e3","#c8d0e7","#d9dbee","#e9e6f3","#f7f1f8"]},"legend":null},
     "stroke":{"field":"v","type":"quantitative","scale":{"domain":[0,1,2,3,4,5,6,7,8],"range":["#3b8bc2","#5c9dcb","#7db0d6","#9dbfdf","#b5c9e3","#c8d0e7","#d9dbee","#e9e6f3","#f7f1f8"]},"legend":null}}},
  {"encoding":{"x":{"field":"x","type":"quantitative","scale":{"domain":[0,1],"range":[58,112],"nice":false,"zero":false},"axis":null},
     "y":{"field":"y","type":"quantitative","scale":{"domain":[0,1],"range":[78,26],"nice":false,"zero":false},"axis":null}},
   "layer":[
    {"data":{"name":"f"},"transform":[{"filter":"datum.p==5 && datum.c=='g'"}],"mark":{"type":"line","color":"#8c8c8c","strokeWidth":4,"interpolate":"catmull-rom"},"encoding":{"detail":{"field":"s"},"order":{"field":"o"}}},
    {"data":{"name":"f"},"transform":[{"filter":"datum.p==5 && datum.c=='r'"}],"mark":{"type":"line","color":"#ff0000","strokeWidth":1.8,"interpolate":"catmull-rom"},"encoding":{"detail":{"field":"s"},"order":{"field":"o"}}},
    {"data":{"name":"fr"},"mark":{"type":"rect","filled":false,"color":"#555555","strokeWidth":1},"encoding":{"x2":{"field":"x2"},"y2":{"field":"y2"}}},
    {"data":{"name":"il"},"mark":{"type":"text","align":"right","baseline":"middle","dx":-2,"font":"Liberation Serif","fontSize":9,"fontStyle":"italic"},"encoding":{"text":{"field":"t"}}},
    {"data":{"name":"ib"},"mark":{"type":"text","align":"center","baseline":"top","dy":2,"font":"Liberation Serif","fontSize":9,"fontStyle":"italic"},"encoding":{"text":{"field":"t"}}}
   ]}
 ]},
{"width":120,"height":132,"resolve":{"scale":{"x":"independent","y":"independent","color":"independent","stroke":"independent"},"axis":{"x":"independent","y":"independent"},"legend":{"color":"independent"}},
 "layer":[
  {"data":{"name":"m"},
   "encoding":{"x":{"field":"d","type":"quantitative","scale":{"domain":[0,24],"nice":false,"zero":false},"axis":{"values":[0,8,16,24],"title":"Hole doping δ[%]","labelPadding":2,"titlePadding":1}},
     "y":{"field":"tc","type":"quantitative","scale":{"domain":[0,0.012],"nice":false},"axis":{"values":[0,0.002,0.004,0.006,0.008,0.01,0.012],"labels":false,"title":null,"minExtent":0,"maxExtent":0,"labelPadding":0}}},
   "layer":[
    {"transform":[{"filter":"datum.p==6"}],"mark":{"type":"area","color":"#b9b9b9","opacity":1}},
    {"transform":[{"filter":"datum.p==6"}],"mark":{"type":"line","color":"#ff00ff","strokeWidth":1.4,"strokeDash":[4,2.5],"clip":true},"encoding":{"y":{"field":"taf","type":"quantitative"}}},
    {"transform":[{"filter":"datum.p==6"}],"mark":{"type":"line","strokeWidth":1.4},"encoding":{"color":{"datum":"t′=−0.2, t″=−0.5","type":"nominal","scale":{"range":["#ff00ff"]},"legend":{"legendX":4,"legendY":3,"symbolFillColor":"#ff00ff","symbolStrokeColor":"#ff00ff"}}}},
    {"transform":[{"filter":"datum.p==6"}],"mark":{"type":"point","filled":true,"size":18,"opacity":1},"encoding":{"color":{"datum":"t′=−0.2, t″=−0.5","type":"nominal"}}}
   ]},
  {"data":{"name":"h"},"transform":[{"filter":"datum.p==6"},{"flatten":["v"]},{"window":[{"op":"row_number","as":"n"}],"groupby":["j"]}],
   "mark":{"type":"rect","strokeWidth":0.5},
   "encoding":{"x":{"field":"n","type":"ordinal","scale":{"range":[58,112],"paddingInner":0,"paddingOuter":0},"axis":null},
     "y":{"field":"j","type":"ordinal","sort":"descending","scale":{"range":[26,78],"paddingInner":0,"paddingOuter":0},"axis":null},
     "color":{"field":"v","type":"quantitative","scale":{"domain":[0,1,2,3,4,5,6,7,8],"range":["#3b8bc2","#5c9dcb","#7db0d6","#9dbfdf","#b5c9e3","#c8d0e7","#d9dbee","#e9e6f3","#f7f1f8"]},"legend":null},
     "stroke":{"field":"v","type":"quantitative","scale":{"domain":[0,1,2,3,4,5,6,7,8],"range":["#3b8bc2","#5c9dcb","#7db0d6","#9dbfdf","#b5c9e3","#c8d0e7","#d9dbee","#e9e6f3","#f7f1f8"]},"legend":null}}},
  {"encoding":{"x":{"field":"x","type":"quantitative","scale":{"domain":[0,1],"range":[58,112],"nice":false,"zero":false},"axis":null},
     "y":{"field":"y","type":"quantitative","scale":{"domain":[0,1],"range":[78,26],"nice":false,"zero":false},"axis":null}},
   "layer":[
    {"data":{"name":"f"},"transform":[{"filter":"datum.p==6 && datum.c=='g'"}],"mark":{"type":"line","color":"#8c8c8c","strokeWidth":4,"interpolate":"catmull-rom"},"encoding":{"detail":{"field":"s"},"order":{"field":"o"}}},
    {"data":{"name":"f"},"transform":[{"filter":"datum.p==6 && datum.c=='r'"}],"mark":{"type":"line","color":"#ff0000","strokeWidth":1.8,"interpolate":"catmull-rom"},"encoding":{"detail":{"field":"s"},"order":{"field":"o"}}},
    {"data":{"name":"fr"},"mark":{"type":"rect","filled":false,"color":"#555555","strokeWidth":1},"encoding":{"x2":{"field":"x2"},"y2":{"field":"y2"}}},
    {"data":{"name":"il"},"mark":{"type":"text","align":"right","baseline":"middle","dx":-2,"font":"Liberation Serif","fontSize":9,"fontStyle":"italic"},"encoding":{"text":{"field":"t"}}},
    {"data":{"name":"ib"},"mark":{"type":"text","align":"center","baseline":"top","dy":2,"font":"Liberation Serif","fontSize":9,"fontStyle":"italic"},"encoding":{"text":{"field":"t"}}}
   ]}
 ]},
{"width":120,"height":132,"resolve":{"scale":{"x":"independent","y":"independent","color":"independent","stroke":"independent"},"axis":{"x":"independent","y":"independent"},"legend":{"color":"independent"}},
 "layer":[
  {"data":{"name":"m"},
   "encoding":{"x":{"field":"d","type":"quantitative","scale":{"domain":[0,24],"nice":false,"zero":false},"axis":{"values":[0,8,16,24],"title":"Hole doping δ[%]","labelPadding":2,"titlePadding":1}},
     "y":{"field":"tc","type":"quantitative","scale":{"domain":[0,0.012],"nice":false},"axis":{"values":[0,0.002,0.004,0.006,0.008,0.01,0.012],"labels":false,"title":null,"minExtent":0,"maxExtent":0,"labelPadding":0}}},
   "layer":[
    {"transform":[{"filter":"datum.p==7"}],"mark":{"type":"area","color":"#b9b9b9","opacity":1}},
    {"transform":[{"filter":"datum.p==7"}],"mark":{"type":"line","color":"#ffa500","strokeWidth":1.4,"strokeDash":[4,2.5],"clip":true},"encoding":{"y":{"field":"taf","type":"quantitative"}}},
    {"transform":[{"filter":"datum.p==7"}],"mark":{"type":"line","strokeWidth":1.4},"encoding":{"color":{"datum":"t′=−0.3, t″=−0.6","type":"nominal","scale":{"range":["#ffa500"]},"legend":{"legendX":3,"legendY":3,"symbolFillColor":"#ffa500","symbolStrokeColor":"#ffa500"}}}},
    {"transform":[{"filter":"datum.p==7"}],"mark":{"type":"point","filled":true,"size":18,"opacity":1},"encoding":{"color":{"datum":"t′=−0.3, t″=−0.6","type":"nominal"}}},
    {"data":{"values":[{"d":3.5,"tc":0.0082,"t":"pt.C"}]},"mark":{"type":"text","font":"DejaVu Sans","fontSize":12},"encoding":{"text":{"field":"t"}}}
   ]},
  {"data":{"name":"h"},"transform":[{"filter":"datum.p==7"},{"flatten":["v"]},{"window":[{"op":"row_number","as":"n"}],"groupby":["j"]}],
   "mark":{"type":"rect","strokeWidth":0.5},
   "encoding":{"x":{"field":"n","type":"ordinal","scale":{"range":[58,112],"paddingInner":0,"paddingOuter":0},"axis":null},
     "y":{"field":"j","type":"ordinal","sort":"descending","scale":{"range":[26,78],"paddingInner":0,"paddingOuter":0},"axis":null},
     "color":{"field":"v","type":"quantitative","scale":{"domain":[0,1,2,3,4,5,6,7,8],"range":["#3b8bc2","#5c9dcb","#7db0d6","#9dbfdf","#b5c9e3","#c8d0e7","#d9dbee","#e9e6f3","#f7f1f8"]},"legend":null},
     "stroke":{"field":"v","type":"quantitative","scale":{"domain":[0,1,2,3,4,5,6,7,8],"range":["#3b8bc2","#5c9dcb","#7db0d6","#9dbfdf","#b5c9e3","#c8d0e7","#d9dbee","#e9e6f3","#f7f1f8"]},"legend":null}}},
  {"encoding":{"x":{"field":"x","type":"quantitative","scale":{"domain":[0,1],"range":[58,112],"nice":false,"zero":false},"axis":null},
     "y":{"field":"y","type":"quantitative","scale":{"domain":[0,1],"range":[78,26],"nice":false,"zero":false},"axis":null}},
   "layer":[
    {"data":{"name":"f"},"transform":[{"filter":"datum.p==7 && datum.c=='g'"}],"mark":{"type":"line","color":"#8c8c8c","strokeWidth":6,"interpolate":"catmull-rom"},"encoding":{"detail":{"field":"s"},"order":{"field":"o"}}},
    {"data":{"name":"f"},"transform":[{"filter":"datum.p==7 && datum.c=='r'"}],"mark":{"type":"line","color":"#ff0000","strokeWidth":1.8,"interpolate":"catmull-rom"},"encoding":{"detail":{"field":"s"},"order":{"field":"o"}}},
    {"data":{"name":"fr"},"mark":{"type":"rect","filled":false,"color":"#555555","strokeWidth":1},"encoding":{"x2":{"field":"x2"},"y2":{"field":"y2"}}},
    {"data":{"name":"il"},"mark":{"type":"text","align":"right","baseline":"middle","dx":-2,"font":"Liberation Serif","fontSize":9,"fontStyle":"italic"},"encoding":{"text":{"field":"t"}}},
    {"data":{"name":"ib"},"mark":{"type":"text","align":"center","baseline":"top","dy":2,"font":"Liberation Serif","fontSize":9,"fontStyle":"italic"},"encoding":{"text":{"field":"t"}}}
   ]}
 ]},
{"width":120,"height":132,"resolve":{"scale":{"x":"independent","y":"independent","color":"independent","stroke":"independent"},"axis":{"x":"independent","y":"independent"},"legend":{"color":"independent"}},
 "layer":[
  {"data":{"name":"m"},
   "encoding":{"x":{"field":"d","type":"quantitative","scale":{"domain":[0,24],"nice":false,"zero":false},"axis":{"values":[0,8,16,24],"title":"Hole doping δ[%]","labelPadding":2,"titlePadding":1}},
     "y":{"field":"tc","type":"quantitative","scale":{"domain":[0,0.012],"nice":false},"axis":{"values":[0,0.002,0.004,0.006,0.008,0.01,0.012],"labels":false,"title":null,"minExtent":0,"maxExtent":0,"labelPadding":0}}},
   "layer":[
    {"transform":[{"filter":"datum.p==8"}],"mark":{"type":"area","color":"#b9b9b9","opacity":1}},
    {"transform":[{"filter":"datum.p==8"}],"mark":{"type":"line","color":"#000000","strokeWidth":1.4,"strokeDash":[4,2.5],"clip":true},"encoding":{"y":{"field":"taf","type":"quantitative"}}},
    {"transform":[{"filter":"datum.p==8"}],"mark":{"type":"line","strokeWidth":1.4},"encoding":{"color":{"datum":"t′=−0.4, t″=−0.7","type":"nominal","scale":{"range":["#000000"]},"legend":{"legendX":4,"legendY":3,"symbolFillColor":"#000000","symbolStrokeColor":"#000000"}}}},
    {"transform":[{"filter":"datum.p==8"}],"mark":{"type":"point","filled":true,"size":18,"opacity":1},"encoding":{"color":{"datum":"t′=−0.4, t″=−0.7","type":"nominal"}}}
   ]},
  {"data":{"name":"h"},"transform":[{"filter":"datum.p==8"},{"flatten":["v"]},{"window":[{"op":"row_number","as":"n"}],"groupby":["j"]}],
   "mark":{"type":"rect","strokeWidth":0.5},
   "encoding":{"x":{"field":"n","type":"ordinal","scale":{"range":[58,112],"paddingInner":0,"paddingOuter":0},"axis":null},
     "y":{"field":"j","type":"ordinal","sort":"descending","scale":{"range":[26,78],"paddingInner":0,"paddingOuter":0},"axis":null},
     "color":{"field":"v","type":"quantitative","scale":{"domain":[0,1,2,3,4,5,6,7,8],"range":["#3b8bc2","#5c9dcb","#7db0d6","#9dbfdf","#b5c9e3","#c8d0e7","#d9dbee","#e9e6f3","#f7f1f8"]},"legend":null},
     "stroke":{"field":"v","type":"quantitative","scale":{"domain":[0,1,2,3,4,5,6,7,8],"range":["#3b8bc2","#5c9dcb","#7db0d6","#9dbfdf","#b5c9e3","#c8d0e7","#d9dbee","#e9e6f3","#f7f1f8"]},"legend":null}}},
  {"encoding":{"x":{"field":"x","type":"quantitative","scale":{"domain":[0,1],"range":[58,112],"nice":false,"zero":false},"axis":null},
     "y":{"field":"y","type":"quantitative","scale":{"domain":[0,1],"range":[78,26],"nice":false,"zero":false},"axis":null}},
   "layer":[
    {"data":{"name":"f"},"transform":[{"filter":"datum.p==8 && datum.c=='g'"}],"mark":{"type":"line","color":"#8c8c8c","strokeWidth":6,"interpolate":"catmull-rom"},"encoding":{"detail":{"field":"s"},"order":{"field":"o"}}},
    {"data":{"name":"f"},"transform":[{"filter":"datum.p==8 && datum.c=='r'"}],"mark":{"type":"line","color":"#ff0000","strokeWidth":1.8,"interpolate":"catmull-rom"},"encoding":{"detail":{"field":"s"},"order":{"field":"o"}}},
    {"data":{"name":"fr"},"mark":{"type":"rect","filled":false,"color":"#555555","strokeWidth":1},"encoding":{"x2":{"field":"x2"},"y2":{"field":"y2"}}},
    {"data":{"name":"il"},"mark":{"type":"text","align":"right","baseline":"middle","dx":-2,"font":"Liberation Serif","fontSize":9,"fontStyle":"italic"},"encoding":{"text":{"field":"t"}}},
    {"data":{"name":"ib"},"mark":{"type":"text","align":"center","baseline":"top","dy":2,"font":"Liberation Serif","fontSize":9,"fontStyle":"italic"},"encoding":{"text":{"field":"t"}}}
   ]}
 ]}
]
}
